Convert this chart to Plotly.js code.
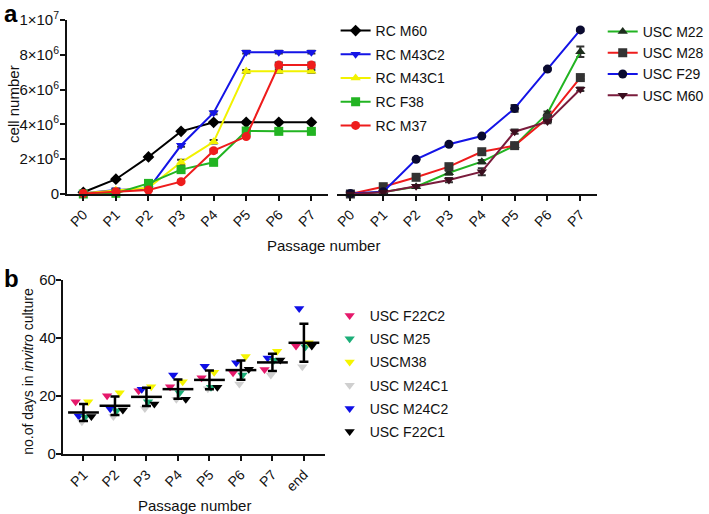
<!DOCTYPE html>
<html><head><meta charset="utf-8">
<script src="https://cdn.plot.ly/plotly-3.0.1.min.js"></script>
<style>html,body{margin:0;padding:0;background:#fff}#chart{width:709px;height:514px}</style>
</head><body><div id="chart"></div>
<script>
// ---------- Panel a : cell number per passage ----------
const passagesA = ['P0','P1','P2','P3','P4','P5','P6','P7'];

const rcM60   = [0.10e6, 0.85e6, 2.13e6, 3.60e6, 4.12e6, 4.12e6, 4.12e6, 4.12e6];
const rcM43C2 = [0.05e6, 0.23e6, 0.30e6, 2.80e6, 4.67e6, 8.15e6, 8.15e6, 8.15e6];
const rcM43C1 = [0.05e6, 0.22e6, 0.36e6, 1.82e6, 3.00e6, 7.05e6, 7.05e6, 7.05e6];
const rcF38   = [0.00e6, 0.04e6, 0.61e6, 1.40e6, 1.82e6, 3.62e6, 3.60e6, 3.60e6];
const rcM37   = [0.03e6, 0.13e6, 0.23e6, 0.71e6, 2.49e6, 3.30e6, 7.41e6, 7.41e6];

const rcM60Err   = [0.03e6, 0.05e6, 0.05e6, 0.05e6, 0.05e6, 0.05e6, 0.05e6, 0.05e6];
const rcM43C2Err = [0.03e6, 0.08e6, 0.05e6, 0.08e6, 0.08e6, 0.08e6, 0.08e6, 0.08e6];
const rcM43C1Err = [0.03e6, 0.05e6, 0.05e6, 0.15e6, 0.10e6, 0.08e6, 0.08e6, 0.08e6];
const rcF38Err   = [0.03e6, 0.05e6, 0.08e6, 0.10e6, 0.10e6, 0.12e6, 0.12e6, 0.12e6];
const rcM37Err   = [0.03e6, 0.05e6, 0.05e6, 0.08e6, 0.10e6, 0.05e6, 0.15e6, 0.15e6];

const uscM22 = [0.00e6, 0.12e6, 0.42e6, 1.22e6, 1.86e6, 2.78e6, 4.64e6, 8.18e6];
const uscM28 = [0.00e6, 0.42e6, 0.96e6, 1.57e6, 2.43e6, 2.78e6, 4.35e6, 6.69e6];
const uscF29 = [0.03e6, 0.13e6, 1.99e6, 2.86e6, 3.33e6, 4.92e6, 7.18e6, 9.43e6];
const uscM60 = [0.00e6, 0.10e6, 0.45e6, 0.80e6, 1.28e6, 3.58e6, 4.16e6, 6.02e6];

const uscM22Err = [0.03e6, 0.05e6, 0.08e6, 0.12e6, 0.10e6, 0.08e6, 0.10e6, 0.30e6];
const uscM28Err = [0.03e6, 0.12e6, 0.12e6, 0.15e6, 0.08e6, 0.08e6, 0.20e6, 0.10e6];
const uscF29Err = [0.03e6, 0.05e6, 0.05e6, 0.05e6, 0.05e6, 0.20e6, 0.08e6, 0.08e6];
const uscM60Err = [0.03e6, 0.05e6, 0.05e6, 0.12e6, 0.20e6, 0.12e6, 0.10e6, 0.10e6];

const yTickValsA = [0, 2e6, 4e6, 6e6, 8e6, 1e7];
const yTickTextA = ['0','2×10<sup>6</sup>','4×10<sup>6</sup>','6×10<sup>6</sup>','8×10<sup>6</sup>','1×10<sup>7</sup>'];

// ---------- Panel b : days in culture per passage ----------
const passagesB = ['P1','P2','P3','P4','P5','P6','P7','end'];
const uscF22C2 = [18.0, 20.1, 21.8, 23.2, 26.3, 28.0, 29.1, 37.2];
const uscM25   = [12.8, 14.9, 18.0, 21.1, 23.0, 27.2, 32.3, 37.0];
const uscM38   = [18.0, 21.1, 23.2, 24.9, 28.2, 33.6, 35.4, 38.4];
const uscM24C1 = [11.1, 12.9, 15.7, 18.9, 22.5, 24.1, 27.2, 30.1];
const uscM24C2 = [13.1, 15.6, 22.3, 27.2, 30.3, 31.5, 33.1, 50.2];
const uscF22C1 = [12.9, 15.2, 17.2, 18.9, 23.0, 29.2, 32.4, 37.2];
const yTickValsB = [0, 20, 40, 60];

// ---------- helpers ----------
const W = 709, H = 514;
const fx = p => p / W;
const fy = p => 1 - p / H;
const FONT = 'Liberation Sans, Arial, Helvetica, sans-serif';
const INK = '#111111';

function lineTrace(name, y, err, xa, lg, color, symbol, mcolor, grp, rank) {
  return {
    type: 'scatter', mode: 'lines+markers', name: name,
    x: passagesA, y: y, xaxis: xa, yaxis: 'y',
    legend: lg, legendgroup: name, legendrank: rank, offsetgroup: grp,
    line: {color: color, width: 2},
    marker: {symbol: symbol, size: 9, color: mcolor},
    error_y: {type: 'data', array: err, visible: true, color: '#333', thickness: 2, width: 4},
    cliponaxis: false, hoverinfo: 'x+y+name'
  };
}

const traces = [
  lineTrace('RC M60',   rcM60,   rcM60Err,   'x', 'legend', '#000000', 'diamond',       '#000000', 'A', 1),
  lineTrace('RC M43C2', rcM43C2, rcM43C2Err, 'x', 'legend', '#1414e6', 'triangle-down', '#1414e6', 'A', 2),
  lineTrace('RC M43C1', rcM43C1, rcM43C1Err, 'x', 'legend', '#f2f200', 'triangle-up',   '#f2f200', 'A', 3),
  lineTrace('RC F38',   rcF38,   rcF38Err,   'x', 'legend', '#22b422', 'square',        '#22b422', 'A', 4),
  lineTrace('RC M37',   rcM37,   rcM37Err,   'x', 'legend', '#ee1c1c', 'circle',        '#ee1c1c', 'A', 5),

  lineTrace('USC M22', uscM22, uscM22Err, 'x2', 'legend2', '#22b422', 'triangle-up',   '#1e2e1e', 'B', 1),
  lineTrace('USC M28', uscM28, uscM28Err, 'x2', 'legend2', '#ee1c1c', 'square',        '#333333', 'B', 2),
  lineTrace('USC F29', uscF29, uscF29Err, 'x2', 'legend2', '#1414e6', 'circle',        '#0a0a30', 'B', 3),
  lineTrace('USC M60', uscM60, uscM60Err, 'x2', 'legend2', '#7a1c3c', 'triangle-down', '#3a0e1e', 'B', 4)
];

// scatter order (left-to-right slot) vs legend order
const dotSeries = [
  {name: 'USC F22C2', y: uscF22C2, color: '#e5196b', rank: 1},
  {name: 'USC M24C2', y: uscM24C2, color: '#0f0fe6', rank: 5},
  {name: 'USC M24C1', y: uscM24C1, color: '#cfcfcf', rank: 4},
  {name: 'USC M25',   y: uscM25,   color: '#1cae78', rank: 2},
  {name: 'USCM38',    y: uscM38,   color: '#f5f500', rank: 3},
  {name: 'USC F22C1', y: uscF22C1, color: '#000000', rank: 6}
];
dotSeries.forEach(s => traces.push({
  type: 'scatter', mode: 'markers', name: s.name,
  x: passagesB, y: s.y, xaxis: 'x3', yaxis: 'y3',
  legend: 'legend3', legendgroup: s.name, legendrank: s.rank,
  marker: {symbol: 'triangle-down', size: 9, color: s.color},
  cliponaxis: false, hoverinfo: 'x+y+name'
}));

// mean ± SD of the six samples at each passage
const means = passagesB.map((_, i) => {
  const v = dotSeries.map(s => s.y[i]);
  return v.reduce((a, b) => a + b, 0) / v.length;
});
const sds = passagesB.map((_, i) => {
  const v = dotSeries.map(s => s.y[i]);
  const m = means[i];
  return Math.sqrt(v.reduce((a, b) => a + (b - m) * (b - m), 0) / (v.length - 1));
});
traces.push({
  type: 'scatter', mode: 'markers', name: 'mean ± SD', showlegend: false,
  x: passagesB, y: means, xaxis: 'x4', yaxis: 'y3',
  marker: {symbol: 'line-ew', size: 22, color: '#000', line: {width: 2.5, color: '#000'}},
  error_y: {type: 'data', array: sds, visible: true, color: '#000', thickness: 2.5, width: 4.5},
  cliponaxis: false
});

const axBase = {
  showline: true, linecolor: INK, linewidth: 2,
  ticks: 'outside', ticklen: 5, tickwidth: 2, tickcolor: INK,
  showgrid: false, zeroline: false, automargin: false, fixedrange: true,
  tickfont: {family: FONT, size: 14, color: INK}
};

const layout = {
  width: W, height: H,
  margin: {l: 0, r: 0, t: 0, b: 0},
  paper_bgcolor: '#ffffff', plot_bgcolor: 'rgba(0,0,0,0)',
  font: {family: FONT, size: 14, color: INK},
  showlegend: true,
  scattermode: 'group', scattergap: 0.4,
  xaxis: Object.assign({}, axBase, {
    type: 'category', categoryorder: 'array', categoryarray: passagesA,
    domain: [fx(67.5), fx(330)], range: [-0.5, 7.5], anchor: 'y', tickangle: -45
  }),
  xaxis2: Object.assign({}, axBase, {
    type: 'category', categoryorder: 'array', categoryarray: passagesA,
    domain: [fx(339), fx(601)], range: [-0.42, 7.5], anchor: 'y', tickangle: -45
  }),
  yaxis: Object.assign({}, axBase, {
    domain: [fy(194), fy(20)], range: [0, 1e7], anchor: 'x',
    tickvals: yTickValsA, ticktext: yTickTextA, ticklabelstandoff: -2,
    tickfont: {family: FONT, size: 15, color: INK}
  }),
  xaxis3: Object.assign({}, axBase, {
    type: 'category', categoryorder: 'array', categoryarray: passagesB,
    domain: [fx(63.3), fx(327)], range: [-0.655, 7.66], anchor: 'y3', tickangle: -45
  }),
  xaxis4: {
    type: 'category', categoryorder: 'array', categoryarray: passagesB,
    overlaying: 'x3', anchor: 'y3', range: [-0.655, 7.66], visible: false, fixedrange: true
  },
  yaxis3: Object.assign({}, axBase, {
    domain: [fy(454), fy(280)], range: [0, 60], anchor: 'x3',
    tickvals: yTickValsB, ticklabelstandoff: -3,
    tickfont: {family: FONT, size: 15, color: INK}
  }),
  legend: {
    x: fx(338), y: fy(15), xanchor: 'left', yanchor: 'top',
    font: {family: FONT, size: 14, color: INK}, tracegroupgap: 2.5,
    bgcolor: 'rgba(0,0,0,0)', traceorder: 'grouped'
  },
  legend2: {
    x: fx(607), y: fy(16), xanchor: 'left', yanchor: 'top',
    font: {family: FONT, size: 14, color: INK}, tracegroupgap: 0,
    bgcolor: 'rgba(0,0,0,0)', traceorder: 'grouped'
  },
  legend3: {
    x: fx(332), y: fy(300), xanchor: 'left', yanchor: 'top',
    font: {family: FONT, size: 14, color: INK}, tracegroupgap: 2,
    bgcolor: 'rgba(0,0,0,0)', traceorder: 'grouped'
  },
  annotations: [
    {text: '<b>a</b>', xref: 'paper', yref: 'paper', x: fx(2), y: fy(13), xanchor: 'left', yanchor: 'middle',
     showarrow: false, font: {family: FONT, size: 24, color: '#000'}},
    {text: '<b>b</b>', xref: 'paper', yref: 'paper', x: fx(2), y: fy(278), xanchor: 'left', yanchor: 'middle',
     showarrow: false, font: {family: FONT, size: 24, color: '#000'}},
    {text: 'cell number', xref: 'paper', yref: 'paper', x: fx(14), y: fy(104), xanchor: 'center', yanchor: 'middle',
     textangle: -90, showarrow: false, font: {family: FONT, size: 15, color: INK}},
    {text: 'Passage number', xref: 'paper', yref: 'paper', x: fx(326), y: fy(245), xanchor: 'center', yanchor: 'middle',
     showarrow: false, font: {family: FONT, size: 15, color: INK}},
    {text: 'no.of days in <i>invitro</i> culture', xref: 'paper', yref: 'paper', x: fx(28), y: fy(371),
     xanchor: 'center', yanchor: 'middle', textangle: -90, showarrow: false, font: {family: FONT, size: 14, color: INK}},
    {text: 'Passage number', xref: 'paper', yref: 'paper', x: fx(196), y: fy(505), xanchor: 'center', yanchor: 'middle',
     showarrow: false, font: {family: FONT, size: 15, color: INK}}
  ]
};

Plotly.newPlot('chart', traces, layout, {displayModeBar: false, staticPlot: false, responsive: false});
</script>
</body></html>
